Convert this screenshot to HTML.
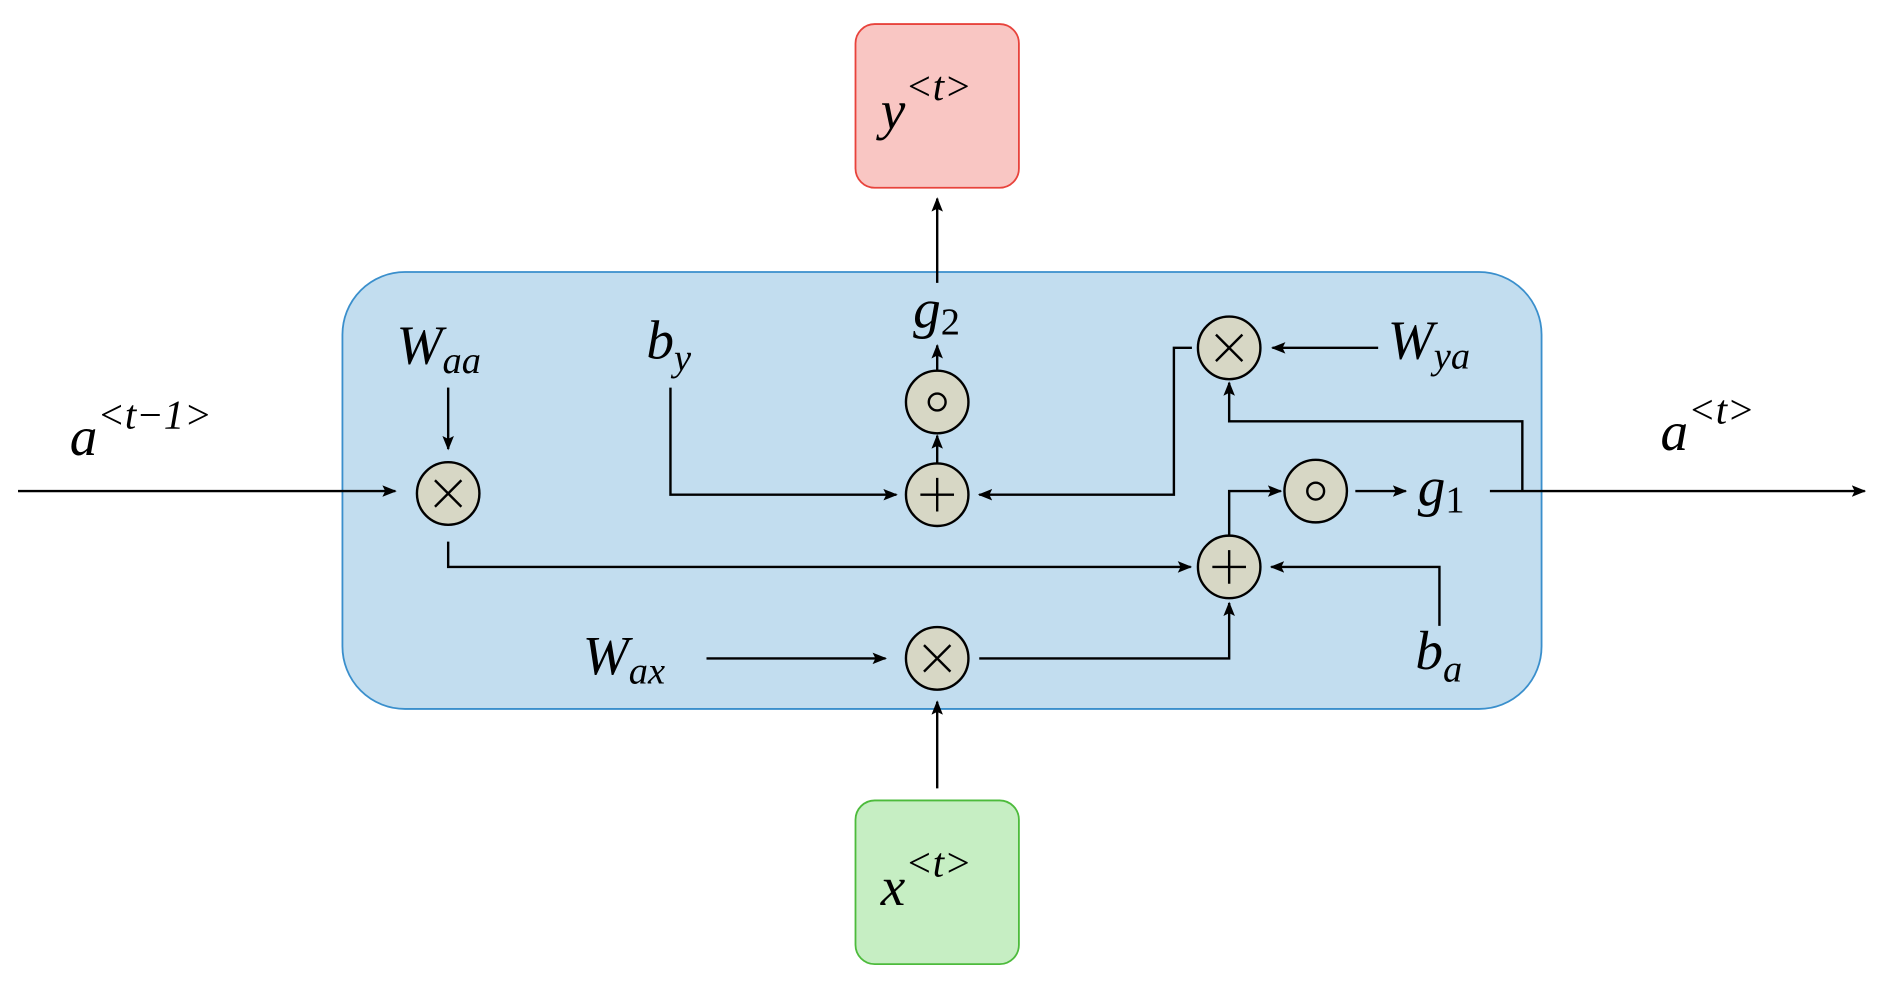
<!DOCTYPE html>
<html><head><meta charset="utf-8"><style>
html,body{margin:0;padding:0;background:#fff}
svg{display:block}
text{font-family:"Liberation Serif",serif;font-style:italic;fill:#000}
</style></head><body>
<svg width="1884" height="987" viewBox="0 0 1568 820" preserveAspectRatio="none" xmlns="http://www.w3.org/2000/svg">
<defs>
<marker id="ah" viewBox="0 0 10 10" refX="9" refY="5" markerWidth="12" markerHeight="12" orient="auto-start-reverse" markerUnits="userSpaceOnUse">
<path d="M0,1 L10,5 L0,9 L2,5 Z" fill="#000"/></marker>
</defs>
<rect x="285" y="226" width="998" height="363" rx="52" fill="#c2ddef" stroke="#3a8fcc" stroke-width="1.5"/>
<rect x="712" y="20" width="136" height="136" rx="16" fill="#f9c6c3" stroke="#e8433c" stroke-width="1.5"/>
<rect x="712" y="665" width="136" height="136" rx="16" fill="#c6eec3" stroke="#4dbb3c" stroke-width="1.5"/>
<g stroke="#000" stroke-width="2" fill="none">
<line x1="15" y1="408" x2="329" y2="408" marker-end="url(#ah)"/>
<line x1="373" y1="322" x2="373" y2="373" marker-end="url(#ah)"/>
<polyline points="373,450 373,471 991,471" marker-end="url(#ah)"/>
<polyline points="558,322 558,411 746,411" marker-end="url(#ah)"/>
<line x1="780" y1="385" x2="780" y2="362" marker-end="url(#ah)"/>
<line x1="780" y1="308" x2="780" y2="287" marker-end="url(#ah)"/>
<line x1="780" y1="235" x2="780" y2="165" marker-end="url(#ah)"/>
<line x1="1147" y1="289" x2="1059" y2="289" marker-end="url(#ah)"/>
<polyline points="992,289 977,289 977,411 815,411" marker-end="url(#ah)"/>
<polyline points="1023,445 1023,408 1066,408" marker-end="url(#ah)"/>
<line x1="1128" y1="408" x2="1170" y2="408" marker-end="url(#ah)"/>
<line x1="1240" y1="408" x2="1552" y2="408" marker-end="url(#ah)"/>
<polyline points="1267,408 1267,350 1023,350 1023,318" marker-end="url(#ah)"/>
<polyline points="1198,520 1198,471 1058,471" marker-end="url(#ah)"/>
<line x1="588" y1="547" x2="737" y2="547" marker-end="url(#ah)"/>
<polyline points="815,547 1023,547 1023,501" marker-end="url(#ah)"/>
<line x1="780" y1="655" x2="780" y2="583" marker-end="url(#ah)"/>
</g>
<g stroke="#000" stroke-width="2" fill="#d7d7c5">
<circle cx="373" cy="410" r="26"/>
<circle cx="780" cy="411" r="26"/>
<circle cx="780" cy="334" r="26"/>
<circle cx="1023" cy="289" r="26"/>
<circle cx="1023" cy="471" r="26"/>
<circle cx="1095" cy="408" r="26"/>
<circle cx="780" cy="547" r="26"/>
</g>
<g stroke="#000" stroke-width="2" fill="none">
<path d="M362,399 L384,421 M384,399 L362,421"/>
<path d="M769,536 L791,558 M791,536 L769,558"/>
<path d="M1012,278 L1034,300 M1034,278 L1012,300"/>
<path d="M780,397 V425 M766,411 H794"/>
<path d="M1023,457 V485 M1009,471 H1037"/>
<circle cx="780" cy="334" r="7"/>
<circle cx="1095" cy="408" r="7"/>
</g>
<g font-size="46">
<text x="330" y="302">W<tspan font-size="32" dy="8">aa</tspan></text>
<text x="538" y="298">b<tspan font-size="32" dy="10">y</tspan></text>
<text x="760" y="272">g<tspan font-size="32" font-style="normal" dy="6">2</tspan></text>
<text x="1155" y="298">W<tspan font-size="32" dy="8">ya</tspan></text>
<text x="1180" y="420">g<tspan font-size="32" font-style="normal" dy="6">1</tspan></text>
<text x="485" y="560">W<tspan font-size="32" dy="8">ax</tspan></text>
<text x="1178" y="556">b<tspan font-size="32" dy="10">a</tspan></text>
<text x="58" y="378">a<tspan font-size="34" dy="-22">&lt;t−1&gt;</tspan></text>
<text x="1382" y="374">a<tspan font-size="34" dy="-22">&lt;t&gt;</tspan></text>
<text x="733" y="107">y<tspan font-size="34" dy="-24">&lt;t&gt;</tspan></text>
<text x="733" y="752">x<tspan font-size="34" dy="-24">&lt;t&gt;</tspan></text>
</g>
</svg>
</body></html>
